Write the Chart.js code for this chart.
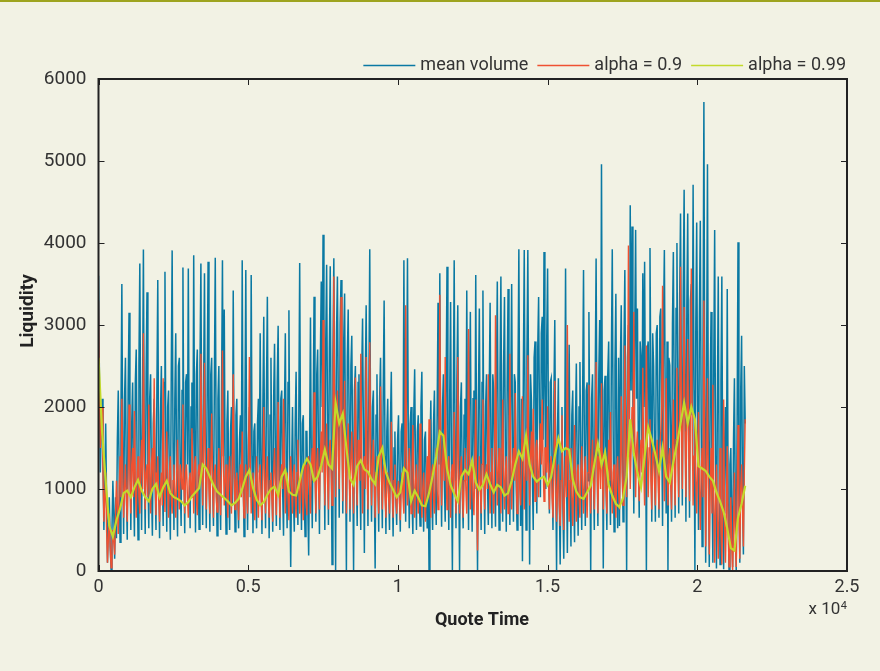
<!DOCTYPE html>
<html>
<head>
<meta charset="utf-8">
<title>Liquidity</title>
<script src="https://cdn.jsdelivr.net/npm/chart.js@4.4.1/dist/chart.umd.min.js"></script>
<style>
  html, body { margin: 0; padding: 0; background: #f2f2e4; }
  #wrap { width: 880px; height: 671px; }
  canvas { display: block; }
</style>
</head>
<body>
<div id="wrap"><canvas id="chart" width="880" height="671"></canvas></div>
<script>
// Quote time between consecutive samples of each series
const VOLUME_STEP = 30;
const SMOOTH_STEP = 120;

// mean volume per quote
const meanVolume = [
  3600,2400, 1200,1700, 2100,1300, 500,1100, 1800,900, 100,600, 900,300, 20,500, 1100,700, 150,900,
  400,1600, 2200,1200, 350,1900, 3500,1400, 450,2100, 2600,1000, 380,2200, 3150,1500, 500,1800, 2300,1100,
  420,2300, 2700,1300, 380,2500, 3750,1600, 500,2000, 3920,1400, 450,2400, 3400,1200, 520,2100, 2400,1000,
  430,1800, 2100,1100, 500,2200, 3550,1300, 400,1900, 2500,1200, 550,2300, 3650,1500, 480,2000, 2200,1000,
  380,2400, 3910,1500, 500,2100, 2900,1200, 420,2500, 2600,1100, 550,2200, 3700,1400, 460,2300, 2400,1300,
  3690,1400, 520,2000, 2300,900, 3850,1600, 470,2400, 2700,1200, 510,2500, 3750,1300, 560,2200, 3630,1500,
  520,2200, 3770,1300, 480,2400, 2600,1100, 550,2300, 3820,1500, 430,2100, 2500,1000, 500,2200, 3790,1400,
  3190,1200, 450,1800, 2200,1000, 500,1700, 2000,800, 3420,1300, 480,1900, 2100,900, 520,1600, 1900,1100,
  3790,1300, 420,1900, 3670,1200, 500,1600, 2000,900, 3610,1400, 460,1700, 1800,1000, 520,1800, 2100,1200,
  2900,1200, 450,2000, 3100,1300, 520,2200, 3345,1400, 400,1900, 2600,1100, 480,2100, 2770,1300, 550,2300,
  2990,1400, 500,2100, 2200,1000, 430,1900, 2900,1200, 520,2300, 3180,1100, 50,1200, 2000,900, 480,1800,
  2430,1100, 560,1900, 3755,1400, 500,1800, 1900,900, 420,1700, 1700,800, 190,1500, 3090,1200, 520,1900,
  3345,1500, 600,2400, 2700,1300, 450,2600, 3530,2000, 4100,1600, 500,2800, 3735,1800, 560,2700, 3715,1700,
  80,2600, 3815,1800, 0,2900, 3590,2000, 650,3000, 3550,2200, 700,2800, 3385,1500, 0,2600, 3190,1900,
  600,2500, 2870,1500, 0,2200, 2500,1300, 550,2300, 2400,1200, 500,2400, 3080,1600, 220,2300, 3240,1700,
  550,2200, 3925,1500, 600,2000, 2200,1100, 30,1900, 2400,1200, 480,2100, 2600,1300, 520,2200, 3300,1400,
  450,1700, 2100,1000, 500,1800, 2430,1100, 420,1500, 1700,900, 560,1600, 1900,1000, 480,1700, 1800,1100,
  3790,1300, 600,2000, 3815,1400, 520,1800, 2000,900, 450,1900, 2460,1200, 500,1700, 1900,1000, 550,2000,
  2430,1000, 480,1600, 1700,900, 520,1400, 0,1500, 2080,1000, 500,1800, 2200,1100, 560,1900, 3270,1300,
  3630,1400, 540,2000, 2400,1100, 600,2200, 3710,1500, 500,2100, 3280,1200, 0,2000, 3790,1400, 520,2300,
  3240,1300, 0,2000, 2300,1000, 520,1900, 2100,1100, 3420,1500, 500,2200, 3160,1300, 480,2100, 2200,1000,
  3610,1400, 0,2100, 3200,1300, 500,2300, 3420,1500, 450,2000, 2400,1100, 560,2200, 3270,1400, 520,2400,
  2200,1100, 540,2300, 3530,1500, 500,2400, 3590,1600, 600,2500, 3340,1400, 480,2300, 3440,1500, 560,2200,
  3500,1400, 600,2400, 2300,1100, 500,2300, 3925,1600, 550,2100, 120,2400, 3915,1700, 500,2600, 3915,1800,
  80,2400, 2080,1200, 500,2600, 2800,1500, 700,2700, 3340,1800, 900,2900, 3100,1600, 3890,2200, 1000,2800,
  3690,1600, 700,2300, 2350,1200, 500,2100, 3060,1300, 0,1700, 2350,900, 80,1500, 2000,800, 150,1400,
  3690,1300, 220,1700, 2760,1200, 300,1900, 2200,1000, 350,1800, 2530,1200, 430,2000, 2550,1300, 500,2100,
  3670,1400, 550,2200, 2300,1100, 3160,1500, 0,2100, 2400,1200, 500,2300, 3810,1600, 550,2400, 3060,1500,
  4960,1800, 30,2200, 2380,1100, 500,2400, 2800,1300, 560,2600, 3925,1700, 480,2500, 3380,1400, 520,2600,
  550,2500, 3240,1500, 600,2700, 3670,1800, 0,2600, 3000,1600, 4460,2200, 4200,2000, 700,2900, 4160,2100,
  3200,1600, 650,2800, 2600,1500, 3630,2000, 3770,1800, 0,2700, 2800,1700, 3940,2100, 600,2900, 2510,1500,
  600,2900, 3000,1700, 650,3100, 3200,1800, 550,3000, 3915,2000, 700,2800, 0,2600, 2510,1600, 600,3000,
  3890,2000, 650,3200, 4000,2100, 700,3300, 4360,2300, 800,3400, 4650,2400, 600,3200, 4360,2200, 650,3300,
  3500,1900, 4710,2200, 0,3000, 4250,2000, 500,3100, 4270,1800, 300,2600, 5720,2000, 100,2400, 4960,1600,
  50,2200, 3160,1200, 100,2500, 4160,1400, 30,2000, 3590,1100, 80,2300, 3590,1000, 20,1500, 2000,700,
  3440,900, 0,1300, 1500,600, 50,1600, 2350,800, 0,1800, 4010,1200, 100,2200, 2870,900, 200,2500,
  1800
];

// exponentially smoothed volume, alpha = 0.9
const alpha090 = [
  3300,2200, 1500,1800, 2000,1200, 600,900, 1200,500, 100,400, 700,300, 40,300, 500,350, 200,700,
  1100,800, 450,1000, 1400,900, 2100,1200, 650,1000, 1300,900, 600,1200, 2030,1100, 700,1300, 1500,900,
  1950,1100, 650,1200, 1400,900, 700,1300, 1600,1000, 2900,1400, 750,1200, 1300,900, 2030,1200, 700,1300,
  1500,1000, 2350,1200, 680,1100, 1400,900, 600,1000, 1200,800, 2350,1100, 720,1300, 1700,1000, 650,1200,
  1400,900, 700,1100, 1300,900, 650,1200, 1600,1000, 750,1300, 1200,1000, 2030,1100, 700,1200, 1300,900,
  650,1100, 1200,900, 1740,1200, 700,1300, 1400,900, 680,1200, 1300,1100, 2650,1400, 800,1500, 2540,1300,
  750,1200, 1500,1000, 700,1300, 1920,1100, 650,1200, 1300,900, 720,1200, 1500,1000, 680,1300, 2690,1400,
  800,1100, 1300,900, 650,1200, 1400,1000, 700,1300, 2400,1200, 750,1100, 1200,900, 620,1100, 1300,900,
  1700,1000, 650,1100, 1300,900, 700,1300, 2610,1300, 700,1100, 1200,900, 620,1100, 1400,900, 650,1200,
  1300,900, 620,1200, 2000,1100, 700,1200, 1400,900, 650,1100, 1200,900, 600,1200, 1500,1000, 680,1300,
  2060,1100, 650,1200, 1300,1000, 2100,1300, 700,1100, 1200,900, 620,1200, 1400,1000, 700,1200, 1300,900,
  650,1200, 1600,1000, 700,1100, 1200,900, 620,1200, 1300,900, 680,1300, 1400,1000, 700,1300, 1500,1100,
  2180,1200, 700,1300, 1500,1000, 750,1400, 1700,1200, 3060,1500, 800,1400, 1800,1100, 750,1500, 1600,1200,
  800,1600, 3590,1700, 900,1800, 2200,1400, 1000,1900, 3340,1600, 850,1700, 2320,1300, 700,1500, 1800,1200,
  750,1400, 1700,1100, 700,1500, 2360,1300, 800,1600, 1500,1100, 2650,1400, 700,1300, 1400,1000, 2610,1300,
  750,1400, 2790,1500, 800,1300, 1600,1100, 650,1200, 1400,1000, 700,1300, 2250,1200, 750,1200, 1300,900,
  650,1100, 1200,900, 700,1200, 1820,1000, 650,1100, 1300,900, 700,1000, 1100,850, 620,1000, 1200,900,
  700,1300, 3240,1400, 800,1200, 1500,1000, 700,1200, 1780,1100, 650,1100, 1300,900, 700,1300, 1800,1000,
  650,1000, 1200,850, 600,1100, 1400,900, 1850,1000, 650,1200, 1300,900, 700,1200, 1500,1000, 750,1400,
  3370,1500, 800,1300, 1600,1100, 2610,1200, 750,1300, 1400,1000, 650,1200, 1300,1000, 1940,1100, 700,1200,
  2610,1200, 700,1200, 1400,1000, 650,1100, 1500,1000, 700,1300, 2950,1400, 750,1200, 1300,900, 680,1300,
  2090,900, 250,1000, 1400,1100, 700,1300, 2090,1200, 750,1200, 1300,1000, 2400,1300, 700,1200, 1500,1000,
  700,1300, 3120,1500, 800,1200, 1500,1100, 700,1300, 2090,1200, 750,1200, 1400,1000, 700,1400, 2650,1300,
  750,1300, 1500,1100, 2170,1200, 700,1300, 1400,1000, 800,1400, 2130,1200, 750,1300, 1600,1100, 2630,1400,
  800,1400, 1700,1200, 1980,1300, 850,1500, 1600,1200, 900,1500, 1800,1300, 2090,1300, 850,1500, 1500,1200,
  2010,1100, 750,1300, 1400,900, 650,1200, 2320,1100, 600,1000, 1300,800, 550,1100, 1900,900, 500,1000,
  1400,900, 3000,1300, 600,1100, 1500,900, 550,1100, 1780,1000, 600,1200, 1300,900, 650,1200, 1520,1000,
  700,1200, 1400,1000, 650,1200, 2270,1200, 700,1300, 1600,1100, 750,1300, 2550,1400, 700,1300, 1500,1000,
  2290,1200, 750,1300, 1400,1000, 700,1200, 1600,1100, 1940,1100, 700,1200, 1300,900, 650,1200, 1400,1000,
  750,1300, 2130,1200, 800,1500, 2750,1400, 900,1700, 3970,1800, 1000,1500, 2000,1600, 3160,1700, 900,1500,
  1700,1200, 850,1400, 1600,1200, 2480,1300, 800,1500, 2750,1400, 900,1500, 1850,1100, 750,1400, 1500,1100,
  800,1400, 1600,1100, 750,1500, 1700,2000, 3480,1600, 850,1500, 2350,1300, 800,1400, 1500,1100, 750,1500,
  2090,1300, 800,1600, 2480,1400, 900,1800, 3710,1900, 1000,2000, 3220,1700, 900,1900, 2830,1600, 850,2000,
  3690,1800, 800,1400, 1800,1100, 700,1300, 1940,1000, 500,1200, 1500,900, 3300,1500, 300,1300, 2350,1000,
  200,1000, 1500,700, 2270,900, 100,800, 1300,600, 150,900, 1500,500, 80,800, 2090,600, 100,700,
  1520,500, 50,600, 900,300, 0,500, 1200,400, 50,900, 1780,700, 150,1000, 1300,800, 300,1200,
  1850
];

// exponentially smoothed volume, alpha = 0.99
const alpha099 = [
  2600, 1700, 1100, 550, 420, 620, 760, 950, 980, 900,
  1020, 1110, 980, 900, 850, 1000, 1060, 900, 1020, 1100,
  950, 900, 880, 850, 800, 840, 910, 960, 1010, 1300,
  1250, 1150, 1050, 970, 930, 890, 850, 800, 830, 880,
  1000, 1150, 1230, 1020, 870, 800, 840, 930, 1000, 1030,
  930, 1150, 1230, 970, 930, 920, 1100, 1280, 1370, 1300,
  1100, 1150, 1290, 1480, 1300, 1250, 2050, 1800, 1920, 1500,
  1130, 1050, 1280, 1350, 1240, 1210, 1120, 1060, 1400, 1500,
  1200, 1080, 990, 900, 960, 1250, 1200, 850, 980, 900,
  800, 790, 950, 1160, 1400, 1700, 1650, 1250, 1050, 940,
  850, 1150, 1230, 1180, 1350, 1080, 990, 1050, 1180, 1060,
  960, 1050, 1020, 920, 950, 1100, 1300, 1460, 1370, 1650,
  1300, 1150, 1090, 1130, 1150, 1050, 1150, 1400, 1620, 1460,
  1500, 1480, 1120, 970, 900, 880, 960, 1040, 1300, 1550,
  1290, 1450, 1050, 920, 820, 780, 890, 1150, 1850, 1430,
  1200, 1020, 1400, 1750, 1600, 1420, 1220, 1500, 1150, 1080,
  1330, 1550, 1800, 2050, 1800, 2000, 1850, 1280, 1250, 1220,
  1150, 1100, 960, 850, 720, 520, 280, 250, 650, 820,
  1040
];

const seriesNames = ['mean volume', 'alpha = 0.9', 'alpha = 0.99'];
const xTickValues = [0, 5000, 10000, 15000, 20000, 25000];
const yTickValues = [0, 1000, 2000, 3000, 4000, 5000, 6000];
const axisTitles = { x: 'Quote Time', y: 'Liquidity' };

const BLUE = '#0a79a3';
const RED = '#ef5131';
const LIME = '#c3da2a';
const INK = '#222222';
const TEXT = '#333333';
const PAPER = '#f2f2e4';

function toPoints(values, step) {
  return values.map((v, i) => ({ x: i * step, y: v }));
}

// page background, olive rule, boxed axes with inward ticks, axis titles, legend
const axesBox = {
  id: 'axesBox',
  beforeDraw(chart) {
    const { ctx, width, height } = chart;
    ctx.save();
    ctx.fillStyle = PAPER;
    ctx.fillRect(0, 0, width, height);
    ctx.fillStyle = '#9ea41e';
    ctx.fillRect(0, 0, width, 2);
    ctx.restore();
  },
  afterDatasetsDraw(chart) {
    const { ctx, chartArea: a, scales } = chart;
    const xs = scales.x, ys = scales.y;
    const tick = 6;
    ctx.save();
    ctx.strokeStyle = INK;
    ctx.lineWidth = 1;
    ctx.beginPath();
    xs.ticks.forEach(t => {
      const px = Math.round(xs.getPixelForValue(t.value)) + 0.5;
      ctx.moveTo(px, a.bottom); ctx.lineTo(px, a.bottom - tick);
      ctx.moveTo(px, a.top); ctx.lineTo(px, a.top + tick);
    });
    ys.ticks.forEach(t => {
      const py = Math.round(ys.getPixelForValue(t.value)) + 0.5;
      ctx.moveTo(a.left, py); ctx.lineTo(a.left + tick, py);
      ctx.moveTo(a.right, py); ctx.lineTo(a.right - tick, py);
    });
    ctx.stroke();
    ctx.lineWidth = 2;
    ctx.strokeRect(a.left, a.top, a.right - a.left, a.bottom - a.top);

    // scale factor of the quote-time axis
    ctx.fillStyle = TEXT;
    ctx.textBaseline = 'alphabetic';
    ctx.textAlign = 'right';
    ctx.font = '11px Roboto';
    ctx.fillText('4', a.right, 609);
    const w4 = ctx.measureText('4').width;
    ctx.font = '17px Roboto';
    ctx.fillText('x 10', a.right - w4 - 0.5, 614);

    // axis titles
    ctx.fillStyle = INK;
    ctx.textAlign = 'center';
    ctx.textBaseline = 'middle';
    ctx.font = 'bold 18px Roboto';
    ctx.fillText(axisTitles.x, 482, 620);
    ctx.translate(28, 311);
    ctx.rotate(-Math.PI / 2);
    ctx.font = 'bold 19px Roboto';
    ctx.fillText(axisTitles.y, 0, 0);
    ctx.restore();

    // legend, right-aligned above the plot box
    ctx.save();
    ctx.font = '18px Roboto';
    ctx.textBaseline = 'middle';
    ctx.textAlign = 'left';
    const lineLen = 52, gapText = 5, gapItem = 9, ly = 65;
    const items = chart.data.datasets.map(ds => ({ label: ds.label, color: ds.borderColor, w: ctx.measureText(ds.label).width }));
    const total = items.reduce((s, it) => s + lineLen + gapText + it.w, 0) + gapItem * (items.length - 1);
    let x = 846 - total;
    items.forEach(it => {
      ctx.strokeStyle = it.color;
      ctx.lineWidth = 1.5;
      ctx.beginPath();
      ctx.moveTo(x, ly + 0.5);
      ctx.lineTo(x + lineLen, ly + 0.5);
      ctx.stroke();
      ctx.fillStyle = TEXT;
      ctx.fillText(it.label, x + lineLen + gapText, ly);
      x += lineLen + gapText + it.w + gapItem;
    });
    ctx.restore();
  }
};

Chart.defaults.font.family = 'Roboto';
Chart.defaults.color = TEXT;

new Chart(document.getElementById('chart'), {
  type: 'line',
  data: {
    datasets: [
      { label: seriesNames[0], data: toPoints(meanVolume, VOLUME_STEP), borderColor: BLUE, backgroundColor: BLUE, borderWidth: 1.5, order: 3 },
      { label: seriesNames[1], data: toPoints(alpha090, VOLUME_STEP), borderColor: RED, backgroundColor: RED, borderWidth: 1.4, order: 2 },
      { label: seriesNames[2], data: toPoints(alpha099, SMOOTH_STEP), borderColor: LIME, backgroundColor: LIME, borderWidth: 2.2, order: 1 }
    ]
  },
  options: {
    responsive: false,
    animation: false,
    devicePixelRatio: 1,
    parsing: false,
    normalized: true,
    elements: { point: { radius: 0 }, line: { tension: 0 } },
    layout: { padding: { top: 79, right: 33, bottom: 0, left: 0 } },
    plugins: {
      tooltip: { enabled: false },
      legend: { display: false }
    },
    scales: {
      x: {
        type: 'linear',
        min: 0,
        max: 25000,
        afterFit(scale) { scale.height = 100; },
        afterBuildTicks(scale) { scale.ticks = xTickValues.map(v => ({ value: v })); },
        grid: { display: false, drawTicks: false },
        border: { display: false },
        ticks: {
          padding: 6,
          font: { size: 18 },
          color: TEXT,
          maxRotation: 0,
          callback: v => String(v / 10000)
        }
      },
      y: {
        type: 'linear',
        min: 0,
        max: 6000,
        afterFit(scale) { scale.width = 98.5; },
        afterBuildTicks(scale) { scale.ticks = yTickValues.map(v => ({ value: v })); },
        grid: { display: false, drawTicks: false },
        border: { display: false },
        ticks: {
          padding: 12,
          font: { size: 19 },
          color: TEXT,
          callback: v => String(v)
        }
      }
    }
  },
  plugins: [axesBox]
});
</script>
</body>
</html>
